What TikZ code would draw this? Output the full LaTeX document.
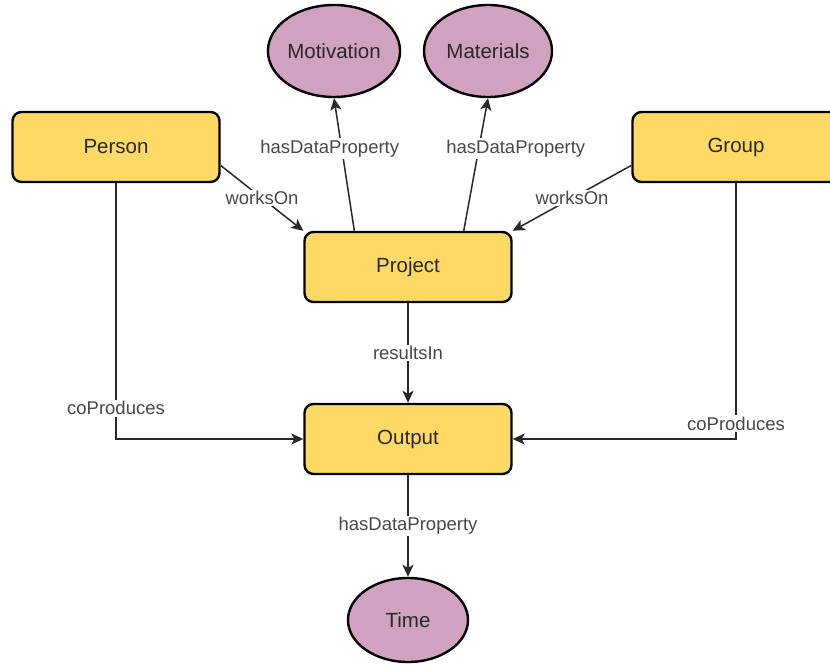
\documentclass[tikz,border=0pt]{standalone}
\usepackage{fontspec}
\setmainfont{Liberation Sans}
\usetikzlibrary{arrows.meta,shapes.geometric}
\definecolor{boxyellow}{RGB}{255,217,102}
\definecolor{ellpink}{RGB}{208,162,192}
\definecolor{ink}{RGB}{40,40,40}
\tikzset{
  classbox/.style={draw=black, line width=2.4pt, fill=boxyellow, rounded corners=9pt,
    minimum width=207pt, minimum height=70pt, text=ink,
    font=\fontsize{20.5}{24}\selectfont},
  propell/.style={draw=black, line width=2.4pt, fill=ellpink, ellipse, inner sep=0pt,
    minimum width=128pt, minimum height=92pt, text=ink,
    font=\fontsize{20.5}{24}\selectfont},
  rel/.style={draw=ink, line width=1.5pt, -{Stealth[length=12pt,width=11pt,inset=3pt]}},
  lbl/.style={fill=white, inner sep=1.5pt, text=ink!85, font=\fontsize{18.5}{22}\selectfont}
}
\begin{document}
\begin{tikzpicture}[x=1pt,y=-1pt]
\useasboundingbox (0,0) rectangle (830,668);

\node[classbox] (person) at (116,147) {Person};
\node[classbox] (group) at (736,147) {Group};
\node[classbox] (project) at (408,267) {Project};
\node[classbox] (output) at (408,439) {Output};

\node[propell] (motivation) at (334,51) {Motivation};
\node[propell] (materials) at (488,51) {Materials};
\node[propell, minimum width=120pt, minimum height=84pt] (time) at (408,620) {Time};

\draw[rel] (person.-10) -- node[lbl] {worksOn} (project.north west);
\draw[rel] (group.190) -- node[lbl] {worksOn} (project.north east);
\draw[rel] (project.146) -- node[lbl, pos=0.62, xshift=-12pt] {hasDataProperty} (motivation.south);
\draw[rel] (project.33) -- node[lbl, pos=0.62, xshift=37pt] {hasDataProperty} (materials.south);
\draw[rel] (project) -- node[lbl] {resultsIn} (output);
\draw[rel] (person) |- node[lbl, pos=0.44] {coProduces} (output);
\draw[rel] (group) |- node[lbl, pos=0.47] {coProduces} (output);
\draw[rel] (output) -- node[lbl] {hasDataProperty} (time);
\end{tikzpicture}
\end{document}
